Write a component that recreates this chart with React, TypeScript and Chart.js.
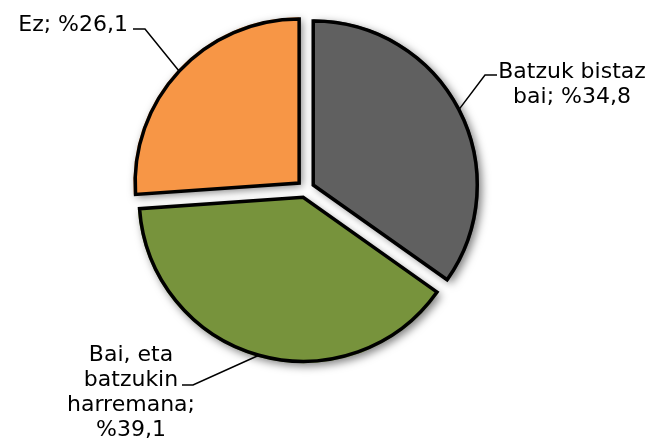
import React, { useEffect, useRef } from "react";
import { Chart, registerables } from "chart.js";

Chart.register(...registerables);

// ---- data ----
const categories = ["Batzuk bistaz bai", "Bai, eta batzukin harremana", "Ez"];
const values = [34.8, 39.1, 26.1];
const colors = ["#606060", "#77933C", "#F79646"];

// ---- style / layout ----
const FONT = '22px "DejaVu Sans", Verdana, sans-serif';
const LINE_H = 25;
const EXPLODE = 8.7;
const BORDER_W = 3.5;

type LabelLayout = {
  textX: number;
  textY: number;
  align: CanvasTextAlign;
  maxWidth: number;
  elbowX: number;
  elbowY: number;
  endX: number;
};

const labelLayout: LabelLayout[] = [
  { textX: 572, textY: 77.5, align: "center", maxWidth: 155, elbowX: 485, elbowY: 75, endX: 497 },
  { textX: 131, textY: 360.5, align: "center", maxWidth: 135, elbowX: 193, elbowY: 385, endX: 182 },
  { textX: 128, textY: 31, align: "right", maxWidth: 260, elbowX: 145, elbowY: 29, endX: 133 },
];

const fmt = (v: number) => "%" + v.toFixed(1).replace(".", ",");

function wrap(ctx: CanvasRenderingContext2D, text: string, maxWidth: number): string[] {
  const words = text.split(" ");
  const lines: string[] = [];
  let cur = "";
  for (const w of words) {
    const test = cur ? cur + " " + w : w;
    if (cur && ctx.measureText(test).width > maxWidth) {
      lines.push(cur);
      cur = w;
    } else {
      cur = test;
    }
  }
  if (cur) lines.push(cur);
  return lines;
}

const slicePlugin = {
  id: "sliceDeco",
  beforeDatasetsDraw(chart: any) {
    const { ctx, chartArea } = chart;
    const cx = (chartArea.left + chartArea.right) / 2;
    const cy = (chartArea.top + chartArea.bottom) / 2;
    const meta = chart.getDatasetMeta(0);
    // explode every slice equally along its mid angle
    meta.data.forEach((el: any) => {
      const mid = (el.startAngle + el.endAngle) / 2;
      el.x = cx + Math.cos(mid) * EXPLODE;
      el.y = cy + Math.sin(mid) * EXPLODE;
    });
    // soft drop shadows
    meta.data.forEach((el: any, i: number) => {
      ctx.save();
      ctx.shadowColor = "rgba(0,0,0,0.5)";
      ctx.shadowBlur = 9;
      ctx.shadowOffsetX = 3;
      ctx.shadowOffsetY = 3;
      ctx.beginPath();
      ctx.moveTo(el.x, el.y);
      ctx.arc(el.x, el.y, el.outerRadius + BORDER_W / 2, el.startAngle, el.endAngle);
      ctx.closePath();
      ctx.fillStyle = colors[i];
      ctx.fill();
      ctx.restore();
    });
  },
  afterDatasetsDraw(chart: any) {
    const { ctx } = chart;
    const meta = chart.getDatasetMeta(0);
    meta.data.forEach((el: any, i: number) => {
      const lay = labelLayout[i];
      const mid = (el.startAngle + el.endAngle) / 2;
      const r = el.outerRadius;
      const ax = el.x + Math.cos(mid) * r;
      const ay = el.y + Math.sin(mid) * r;
      ctx.save();
      ctx.strokeStyle = "#000";
      ctx.lineWidth = 1.5;
      ctx.beginPath();
      ctx.moveTo(ax, ay);
      ctx.lineTo(lay.elbowX, lay.elbowY);
      ctx.lineTo(lay.endX, lay.elbowY);
      ctx.stroke();
      ctx.font = FONT;
      ctx.fillStyle = "#000";
      ctx.textAlign = lay.align;
      ctx.textBaseline = "alphabetic";
      const lines = wrap(ctx, `${categories[i]}; ${fmt(values[i])}`, lay.maxWidth);
      lines.forEach((ln, k) => ctx.fillText(ln, lay.textX, lay.textY + k * LINE_H));
      ctx.restore();
    });
  },
};

export default function App() {
  const ref = useRef<HTMLCanvasElement | null>(null);
  useEffect(() => {
    if (!ref.current) return;
    const chart = new Chart(ref.current, {
      type: "pie",
      data: {
        labels: categories,
        datasets: [
          {
            data: values,
            backgroundColor: colors,
            borderColor: "#000",
            borderWidth: BORDER_W,
            borderJoinStyle: "miter",
            hoverOffset: 0,
          } as any,
        ],
      },
      options: {
        responsive: false,
        animation: false,
        radius: 164,
        layout: { padding: { left: 0, top: 0, right: 47, bottom: 62 } },
        plugins: {
          legend: { display: false },
          tooltip: { enabled: false },
        },
        events: [],
      } as any,
      plugins: [slicePlugin],
    });
    return () => chart.destroy();
  }, []);
  return (
    <div style={{ position: "absolute", left: 0, top: 0, width: 658, height: 440, background: "#fff" }}>
      <canvas ref={ref} width={658} height={440} style={{ display: "block" }} />
    </div>
  );
}
